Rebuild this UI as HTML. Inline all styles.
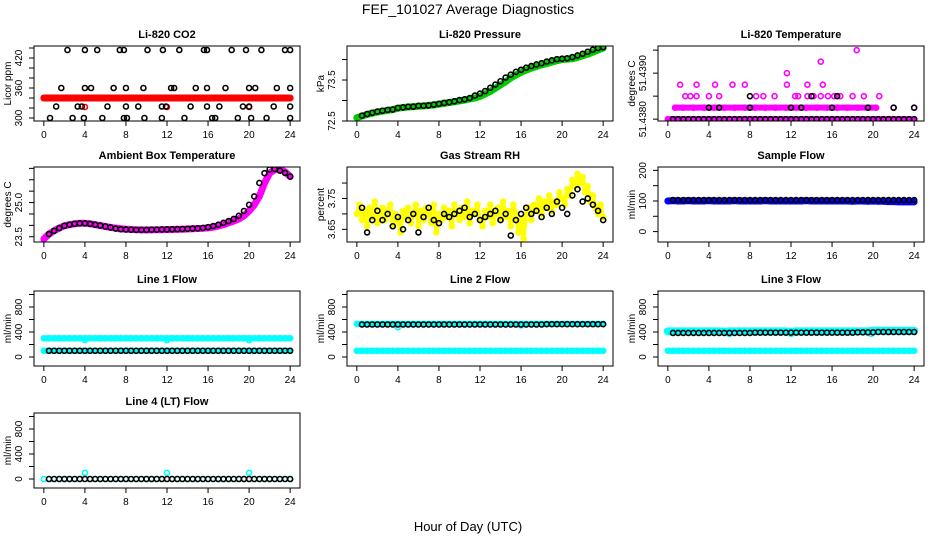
<!DOCTYPE html>
<html><head><meta charset="utf-8"><style>
body{margin:0;background:#fff;}
svg{display:block;font-family:"Liberation Sans",Arial,sans-serif;}
</style></head><body>
<svg id="chart" width="936" height="540" viewBox="0 0 936 540">
<rect width="936" height="540" fill="#fff"/>
<text x="468" y="14" text-anchor="middle" font-size="14">FEF_101027  Average Diagnostics</text>
<text x="468" y="531" text-anchor="middle" font-size="13">Hour of Day (UTC)</text>
</svg>
<script>
const xTicks=[0,4,8,12,16,20,24];
// CO2
const co2Red=[340,340,340,340,340,340,340,340,340,340,340,340,340,340,340,340,340,340,340,340,340,340,340,340,340,340,340,340,340,340,340,340,340,340,340,340,340,340,340,340,340,340,340,340,340,340,340,340,340];
const co2RedDipX=[4,12,20];
const co2RedDipY=[322,322,322];
const co2BlackX=[2.3,4.0,5.2,7.4,7.8,10.1,11.6,13.2,15.6,15.9,18.3,19.7,21.2,23.5,24.0,1.7,4.0,4.6,6.8,8.0,9.7,12.4,12.7,14.8,15.9,17.7,20.0,20.6,22.7,24.0,1.2,3.3,3.7,6.2,8.0,9.2,11.5,11.9,14.3,15.9,17.1,19.4,20.0,22.4,24.0,0.6,2.8,3.9,5.7,7.8,8.1,9.8,11.5,13.7,16.4,16.7,18.9,20.2,21.7,24.0];
const co2BlackY=[436,436,436,436,436,436,436,436,436,436,436,436,436,436,436,360,360,360,360,360,360,360,360,360,360,360,360,360,360,360,323,323,323,323,323,323,323,323,323,323,323,323,323,323,323,300,300,300,300,300,300,300,300,300,300,300,300,300,300,300];
// Pressure
const presGreen=[72.58,72.62,72.66,72.69,72.72,72.74,72.76,72.78,72.81,72.83,72.84,72.85,72.86,72.87,72.88,72.89,72.91,72.93,72.95,72.97,72.99,73.01,73.04,73.06,73.10,73.16,73.22,73.30,73.38,73.46,73.55,73.62,73.69,73.74,73.79,73.83,73.87,73.90,73.94,73.97,74.00,74.01,74.02,74.05,74.09,74.13,74.18,74.23,74.28];
const presBlack=[72.63,72.67,72.70,72.73,72.75,72.77,72.78,72.82,72.83,72.85,72.85,72.87,72.87,72.88,72.90,72.92,72.94,72.96,72.98,73.01,73.03,73.06,73.12,73.17,73.23,73.31,73.39,73.47,73.56,73.63,73.70,73.75,73.80,73.84,73.88,73.91,73.95,73.98,74.01,74.02,74.03,74.06,74.10,74.14,74.19,74.24,74.28,74.30];
// Temperature
const tempMagX=[1.7,2.2,2.8,4.0,5.0,8.6,9.3,10.4,12.4,12.7,13.6,14.2,14.9,15.6,16.2,16.8,18.0,19.1,20.6,1.2,2.8,4.6,6.3,7.5,11.6,13.6,15.1,11.6,14.9,18.4,22.0,24.0];
const tempMagY=[51.4385,51.4385,51.4385,51.4385,51.4385,51.4385,51.4385,51.4385,51.4385,51.4385,51.4385,51.4385,51.4385,51.4385,51.4385,51.4385,51.4385,51.4385,51.4385,51.43875,51.43875,51.43875,51.43875,51.43875,51.43875,51.43875,51.43875,51.4390,51.43925,51.4395,51.43825,51.43825];
const tempBand1=[51.4380,51.4380,51.4380,51.4380,51.4380,51.4380,51.4380,51.4380,51.4380,51.4380,51.4380,51.4380,51.4380,51.4380,51.4380,51.4380,51.4380,51.4380,51.4380,51.4380,51.4380,51.4380,51.4380,51.4380,51.4380,51.4380,51.4380,51.4380,51.4380,51.4380,51.4380,51.4380,51.4380,51.4380,51.4380,51.4380,51.4380,51.4380,51.4380,51.4380,51.4380,51.4380,51.4380,51.4380,51.4380,51.4380,51.4380,51.4380,51.4380];
const tempBand2X=[0.7,1.5,2.5,3.5,4.5,5.5,6.5,7.5,8.5,9.5,10.5,11.5,12.5,13.5,14.5,15.5,16.5,17.5,18.5,19.5,20.3];
const tempBand2Y=[51.43825,51.43825,51.43825,51.43825,51.43825,51.43825,51.43825,51.43825,51.43825,51.43825,51.43825,51.43825,51.43825,51.43825,51.43825,51.43825,51.43825,51.43825,51.43825,51.43825,51.43825];
const tempBlackX=[4.0,5.0,8.0,12.0,13.0,16.0,19.5,22.0,24.0,8.0,14.0,16.5];
const tempBlackY=[51.43825,51.43825,51.43825,51.43825,51.43825,51.43825,51.43825,51.43825,51.43825,51.4385,51.4385,51.4385];
const tempBlackBase=[51.4380,51.4380,51.4380,51.4380,51.4380,51.4380,51.4380,51.4380,51.4380,51.4380,51.4380,51.4380,51.4380,51.4380,51.4380,51.4380,51.4380,51.4380,51.4380,51.4380,51.4380,51.4380,51.4380,51.4380,51.4380,51.4380,51.4380,51.4380,51.4380,51.4380,51.4380,51.4380,51.4380,51.4380,51.4380,51.4380,51.4380,51.4380,51.4380,51.4380,51.4380,51.4380,51.4380,51.4380,51.4380,51.4380,51.4380,51.4380];
// Ambient
const ambMag=[23.40,23.62,23.76,23.88,23.98,24.03,24.07,24.09,24.09,24.07,24.03,23.99,23.95,23.91,23.88,23.85,23.83,23.82,23.81,23.80,23.80,23.80,23.81,23.81,23.82,23.82,23.83,23.83,23.84,23.85,23.86,23.87,23.89,23.92,23.97,24.03,24.11,24.19,24.28,24.42,24.63,24.90,25.27,25.86,26.29,26.45,26.47,26.35,26.14];
const ambBlack=[23.62,23.76,23.88,23.98,24.03,24.07,24.09,24.09,24.07,24.03,23.99,23.95,23.91,23.86,23.83,23.82,23.81,23.80,23.80,23.80,23.81,23.81,23.82,23.82,23.83,23.83,23.84,23.85,23.86,23.87,23.89,23.92,23.97,24.03,24.11,24.19,24.28,24.42,24.63,24.90,25.27,25.86,26.29,26.45,26.47,26.40,26.30,26.14];
// RH
const rhYellow=[3.70,3.73,3.68,3.71,3.66,3.72,3.69,3.74,3.67,3.70,3.72,3.68,3.71,3.73,3.66,3.70,3.68,3.64,3.71,3.69,3.72,3.67,3.70,3.73,3.66,3.71,3.68,3.72,3.70,3.67,3.73,3.64,3.70,3.68,3.72,3.69,3.71,3.66,3.73,3.70,3.68,3.72,3.69,3.74,3.67,3.71,3.70,3.73,3.68,3.66,3.71,3.69,3.73,3.67,3.70,3.72,3.68,3.74,3.69,3.71,3.66,3.73,3.70,3.64,3.68,3.62,3.70,3.72,3.68,3.73,3.71,3.75,3.70,3.74,3.72,3.76,3.71,3.74,3.73,3.77,3.75,3.73,3.78,3.76,3.81,3.79,3.83,3.80,3.82,3.77,3.79,3.74,3.76,3.72,3.70,3.73,3.69];
const rhBlack=[3.72,3.64,3.68,3.71,3.68,3.70,3.66,3.69,3.65,3.68,3.70,3.64,3.69,3.72,3.68,3.67,3.70,3.69,3.70,3.71,3.72,3.69,3.70,3.68,3.69,3.70,3.71,3.68,3.70,3.63,3.68,3.70,3.72,3.70,3.71,3.69,3.72,3.70,3.74,3.72,3.70,3.76,3.78,3.74,3.75,3.73,3.71,3.68];
// Sample flow
const sfBlue=[100,101,100,100,101,100,100,100,101,100,100,100,100,101,100,100,100,100,100,101,100,100,100,100,100,100,100,101,100,100,100,100,100,100,100,100,99,100,100,99,100,99,99,98,98,97,97,97,97];
const sfBlack=[103,103,103,103,103,103,103,103,103,103,103,103,103,103,103,103,103,103,103,103,103,103,103,103,103,103,103,103,103,103,103,103,103,103,103,103,103,103,103,103,103,103,103,103,103,103,103,103];
// Line flows
const l1CyanHi=[300,300,300,300,300,300,300,300,300,300,300,300,300,300,300,300,300,300,300,300,300,300,300,300,300,300,300,300,300,300,300,300,300,300,300,300,300,300,300,300,300,300,300,300,300,300,300,300,300];
const l1DipX=[4,12,20];
const l1DipY=[270,270,270];
const l1CyanLo=[100,100,100,100,100,100,100,100,100,100,100,100,100,100,100,100,100,100,100,100,100,100,100,100,100,100,100,100,100,100,100,100,100,100,100,100,100,100,100,100,100,100,100,100,100,100,100,100,100];
const l1Black=[100,100,100,100,100,100,100,100,100,100,100,100,100,100,100,100,100,100,100,100,100,100,100,100,100,100,100,100,100,100,100,100,100,100,100,100,100,100,100,100,100,100,100,100,100,100,100,100];
const l2CyanHi=[530,530,530,530,530,530,530,530,530,530,530,530,530,530,530,530,530,530,530,530,530,530,530,530,530,530,530,530,530,530,530,530,530,530,530,530,530,530,530,530,530,530,530,530,530,530,530,530,530];
const l2DipX=[4,16];
const l2DipY=[475,505];
const l2CyanLo=[100,100,100,100,100,100,100,100,100,100,100,100,100,100,100,100,100,100,100,100,100,100,100,100,100,100,100,100,100,100,100,100,100,100,100,100,100,100,100,100,100,100,100,100,100,100,100,100,100];
const l2Black=[520,520,520,520,520,520,520,520,520,520,520,520,520,520,520,520,520,520,520,520,520,520,520,520,520,520,520,520,520,520,520,520,520,520,520,520,525,525,525,525,525,525,525,525,525,525,525,525];
const l3CyanHi=[410,410,410,410,410,410,410,410,410,410,410,405,410,410,410,410,410,410,410,410,410,410,410,410,405,410,410,410,410,410,410,410,410,410,410,410,410,410,410,410,420,420,420,420,420,420,420,420,420];
const l3DipX=[6,12,19.8];
const l3DipY=[370,370,370];
const l3CyanLo=[100,100,100,100,100,100,100,100,100,100,100,100,100,100,100,100,100,100,100,100,100,100,100,100,100,100,100,100,100,100,100,100,100,100,100,100,100,100,100,100,100,100,100,100,100,100,100,100,100];
const l3Black=[385,385,385,385,385,385,385,385,385,385,385,385,385,385,385,385,390,390,390,390,390,390,390,390,390,390,390,390,390,390,390,390,390,390,390,390,395,395,395,395,400,400,400,400,400,400,400,400];
const l4Cyan=[0,0,0,0,0,0,0,0,100,0,0,0,0,0,0,0,0,0,0,0,0,0,0,0,100,0,0,0,0,0,0,0,0,0,0,0,0,0,0,0,100,0,0,0,0,0,0,0,0];
const l4Black=[0,0,0,0,0,0,0,0,0,0,0,0,0,0,0,0,0,0,0,0,0,0,0,0,0,0,0,0,0,0,0,0,0,0,0,0,0,0,0,0,0,0,0,0,0,0,0,0];

const NS="http://www.w3.org/2000/svg";
const svg=document.getElementById('chart');
const colL=[34,347,658], rowT=[46,167,291,413], PW=266, PH=75;
function mk(tag,attrs,parent){const e=document.createElementNS(NS,tag);for(const k in attrs)e.setAttribute(k,attrs[k]);(parent||svg).appendChild(e);return e;}
function colX(arr,black){return arr.map((v,i)=>black?(i+1)*24/arr.length:i*24/(arr.length-1));}

function panel(o){
  const L=colL[o.c],T=rowT[o.r];
  const g=mk('g',{});
  
  
  const xs=h=>L+(h+0.96)/25.92*PW;
  const ys=v=>T+PH-(v-o.y0)/(o.y1-o.y0)*PH;
  const t=mk('text',{x:L+PW/2,y:T-8,'text-anchor':'middle','font-size':11,'font-weight':'bold'},g);
  t.textContent=o.title;
  
  
  xTicks.forEach(h=>{
    mk('line',{x1:xs(h),x2:xs(h),y1:T+PH,y2:T+PH+5,stroke:'#000'},g);
    const tl=mk('text',{x:xs(h),y:T+PH+17,'text-anchor':'middle','font-size':10},g);
    tl.textContent=h;
    
    
  });
  o.ticks.forEach(v=>{mk('line',{x1:L-5,x2:L,y1:ys(v),y2:ys(v),stroke:'#000'},g);});
  o.labels.forEach((lab,i)=>{
    const v=o.labelVals[i];
    const tl=mk('text',{x:0,y:0,'text-anchor':'middle','font-size':10,transform:`translate(${L-12},${ys(v)}) rotate(-90)`},g);
    tl.textContent=lab;
    
    
  });
  const yl=mk('text',{x:0,y:0,'text-anchor':'middle','font-size':10,transform:`translate(${L-23},${T+PH/2}) rotate(-90)`},g);
  yl.textContent=o.ylab;
  
  
  const clip='clip'+o.c+o.r;
  const cp=mk('clipPath',{id:clip},g);mk('rect',{x:L,y:T,width:PW,height:PH},cp);
  const pg=mk('g',{'clip-path':`url(#${clip})`},g);
  o.series.forEach(s=>{
    const sg=mk('g',{},pg);
    
    
    if(s.band){
      const pts=s.x.map((h,i)=>xs(h)+','+ys(s.y[i])).join(' ');
      mk('polyline',{points:pts,fill:'none',stroke:s.color,'stroke-width':s.bw||6,'stroke-linejoin':'round','stroke-linecap':'round'},sg);
    }
    s.x.forEach((h,i)=>{
      const c=mk('circle',{cx:xs(h),cy:ys(s.y[i]),r:2.5,fill:'none',stroke:s.color,'stroke-width':1.6},sg);
      
      
    });
  });
  const box=mk('rect',{x:L,y:T,width:PW,height:PH,fill:'none',stroke:'#000','stroke-width':1},g);
  
  
}
const flowT=[0,200,400,600,800,1000], flowL=['0','400','800'], flowLV=[0,400,800];
panel({name:'co2-panel',c:0,r:0,title:'Li-820 CO2',ylab:'Licor ppm',y0:294,y1:444,ticks:[300,320,340,360,380,400,420,440],labels:['300','360','420'],labelVals:[300,360,420],
  series:[{name:'co2-red',x:colX(co2Red),y:co2Red,color:'#ff0000',band:true,bw:7},{name:'co2-red-dips',x:co2RedDipX,y:co2RedDipY,color:'#ff0000'},{name:'co2-black',x:co2BlackX,y:co2BlackY,color:'#000'}]});
panel({name:'pressure-panel',c:1,r:0,title:'Li-820 Pressure',ylab:'kPa',y0:72.5,y1:74.33,ticks:[72.5,73,73.5,74],labels:['72.5','73.5'],labelVals:[72.5,73.5],
  series:[{name:'pressure-green',x:colX(presGreen),y:presGreen,color:'#00cc00',band:true,bw:7},{name:'pressure-black',x:colX(presBlack,true),y:presBlack,color:'#000'}]});
panel({name:'temperature-panel',c:2,r:0,title:'Li-820 Temperature',ylab:'degrees C',y0:51.43796,y1:51.43959,ticks:[51.438,51.4385,51.439,51.4395],labels:['51.4380','51.4390'],labelVals:[51.438,51.439],
  series:[{name:'temp-band-low',x:colX(tempBand1),y:tempBand1,color:'#ff00ff',band:true},{name:'temp-band-mid',x:tempBand2X,y:tempBand2Y,color:'#ff00ff',band:true},{name:'temp-scatter',x:tempMagX,y:tempMagY,color:'#ff00ff'},{name:'temp-black-base',x:colX(tempBlackBase,true),y:tempBlackBase,color:'#000'},{name:'temp-black',x:tempBlackX,y:tempBlackY,color:'#000'}]});
panel({name:'ambient-panel',c:0,r:1,title:'Ambient Box Temperature',ylab:'degrees C',y0:23.27,y1:26.56,ticks:[23.5,24,24.5,25,25.5,26,26.5],labels:['23.5','25.0'],labelVals:[23.5,25],
  series:[{name:'ambient-magenta',x:colX(ambMag),y:ambMag,color:'#ff00ff',band:true,bw:7},{name:'ambient-black',x:colX(ambBlack,true),y:ambBlack,color:'#000'}]});
panel({name:'rh-panel',c:1,r:1,title:'Gas Stream RH',ylab:'percent',y0:3.609,y1:3.852,ticks:[3.65,3.7,3.75,3.8],labels:['3.65','3.75'],labelVals:[3.65,3.75],
  series:[{name:'rh-yellow',x:colX(rhYellow),y:rhYellow,color:'#ffff00',band:true,bw:4},{name:'rh-black',x:colX(rhBlack,true),y:rhBlack,color:'#000'}]});
panel({name:'sample-flow-panel',c:2,r:1,title:'Sample Flow',ylab:'ml/min',y0:-34,y1:211,ticks:[0,50,100,150,200],labels:['0','100','200'],labelVals:[0,100,200],
  series:[{name:'sample-blue',x:colX(sfBlue),y:sfBlue,color:'#0000ff',band:true,bw:7},{name:'sample-black',x:colX(sfBlack,true),y:sfBlack,color:'#000'}]});
panel({name:'line1-panel',c:0,r:2,title:'Line 1 Flow',ylab:'ml/min',y0:-144,y1:1056,ticks:flowT,labels:flowL,labelVals:flowLV,
  series:[{name:'line1-cyan-high',x:colX(l1CyanHi),y:l1CyanHi,color:'#00ffff',band:true},{name:'line1-cyan-dips',x:l1DipX,y:l1DipY,color:'#00ffff'},{name:'line1-cyan-low',x:colX(l1CyanLo),y:l1CyanLo,color:'#00ffff',band:true},{name:'line1-black',x:colX(l1Black,true),y:l1Black,color:'#000'}]});
panel({name:'line2-panel',c:1,r:2,title:'Line 2 Flow',ylab:'ml/min',y0:-144,y1:1056,ticks:flowT,labels:flowL,labelVals:flowLV,
  series:[{name:'line2-cyan-high',x:colX(l2CyanHi),y:l2CyanHi,color:'#00ffff',band:true},{name:'line2-cyan-dips',x:l2DipX,y:l2DipY,color:'#00ffff'},{name:'line2-cyan-low',x:colX(l2CyanLo),y:l2CyanLo,color:'#00ffff',band:true},{name:'line2-black',x:colX(l2Black,true),y:l2Black,color:'#000'}]});
panel({name:'line3-panel',c:2,r:2,title:'Line 3 Flow',ylab:'ml/min',y0:-144,y1:1056,ticks:flowT,labels:flowL,labelVals:flowLV,
  series:[{name:'line3-cyan-high',x:colX(l3CyanHi),y:l3CyanHi,color:'#00ffff',band:true,bw:8},{name:'line3-cyan-dips',x:l3DipX,y:l3DipY,color:'#00ffff'},{name:'line3-cyan-low',x:colX(l3CyanLo),y:l3CyanLo,color:'#00ffff',band:true},{name:'line3-black',x:colX(l3Black,true),y:l3Black,color:'#000'}]});
panel({name:'line4-panel',c:0,r:3,title:'Line 4 (LT) Flow',ylab:'ml/min',y0:-144,y1:1056,ticks:flowT,labels:flowL,labelVals:flowLV,
  series:[{name:'line4-cyan',x:colX(l4Cyan),y:l4Cyan,color:'#00ffff'},{name:'line4-black',x:colX(l4Black,true),y:l4Black,color:'#000'}]});
</script>
</body></html>
